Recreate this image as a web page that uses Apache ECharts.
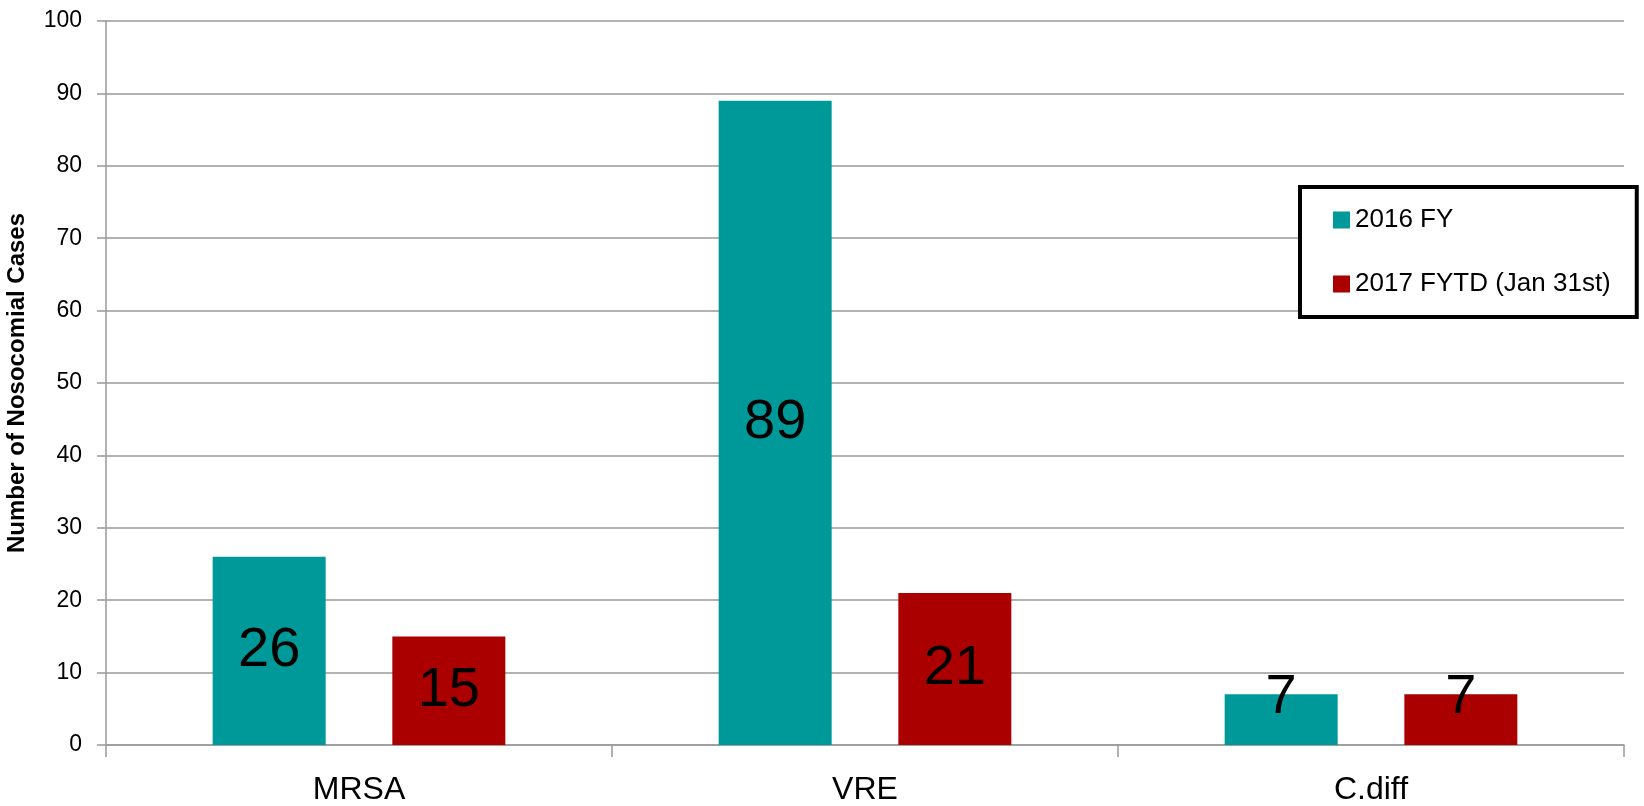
<!DOCTYPE html>
<html>
<head>
<meta charset="utf-8">
<title>Nosocomial Cases</title>
<script src="https://cdn.jsdelivr.net/npm/echarts@6/dist/echarts.min.js"></script>
<style>
  html, body { margin: 0; padding: 0; background: #fff; }
  #chart { width: 1644px; height: 806px; }
</style>
</head>
<body>
<div id="chart"></div>
<script>
// data
var categories = ['MRSA', 'VRE', 'C.diff'];
var fy2016 = [26, 89, 7];
var fytd2017 = [15, 21, 7];
var seriesNames = ['2016 FY', '2017 FYTD (Jan 31st)'];
var yTicks = [0, 10, 20, 30, 40, 50, 60, 70, 80, 90, 100];

var font = '"Liberation Sans", Arial, sans-serif';
var gray = '#999';

// small bars: label sits higher, like the original
function barData (vals) {
  return vals.map(function (v) {
    if (v < 10) {
      return { value: v, label: { offset: [0, -22] } }
    }
    return v
  })
}

var chart = echarts.init(document.getElementById('chart'));
chart.setOption({
  animation: false,
  textStyle: { fontFamily: font, color: '#000' },
  grid: {
    left: 106,
    right: 20,
    top: 21,
    bottom: 61,
    containLabel: false,
    outerBoundsMode: 'none'
  },
  legend: {
    orient: 'vertical',
    left: 1300,
    top: 187,
    padding: [20, 26, 20, 33],
    itemGap: 38,
    itemWidth: 17,
    itemHeight: 17,
    icon: 'rect',
    borderColor: '#000',
    borderWidth: 4,
    backgroundColor: '#fff',
    textStyle: { fontFamily: font, fontSize: 26, color: '#000' },
    data: seriesNames
  },
  xAxis: {
    type: 'category',
    data: categories,
    axisLine: { lineStyle: { color: gray, width: 1.5 } },
    axisTick: { show: true, length: 12, lineStyle: { color: gray, width: 1.5 } },
    axisLabel: { fontFamily: font, fontSize: 32, color: '#000', margin: 29 }
  },
  yAxis: {
    type: 'value',
    min: yTicks[0],
    max: yTicks[yTicks.length - 1],
    interval: yTicks[1] - yTicks[0],
    name: 'Number of Nosocomial Cases',
    nameLocation: 'middle',
    nameGap: 77,
    nameTextStyle: { fontFamily: font, fontSize: 24, fontWeight: 'bold', color: '#000' },
    axisLine: { show: true, lineStyle: { color: gray, width: 1.5 } },
    axisTick: { show: true, length: 9, lineStyle: { color: gray, width: 1.5 } },
    axisLabel: { fontFamily: font, fontSize: 23, color: '#000', margin: 24 },
    splitLine: { lineStyle: { color: gray, width: 1.5 } }
  },
  series: [{
    name: seriesNames[0],
    type: 'bar',
    barWidth: 113,
    barGap: '59%',
    itemStyle: { color: '#009999' },
    label: { show: true, position: 'inside', fontFamily: font, fontSize: 56, color: '#000' },
    data: barData(fy2016)
  }, {
    name: seriesNames[1],
    type: 'bar',
    barWidth: 113,
    itemStyle: { color: '#aa0000' },
    label: { show: true, position: 'inside', fontFamily: font, fontSize: 56, color: '#000' },
    data: barData(fytd2017)
  }]
});
</script>
</body>
</html>
